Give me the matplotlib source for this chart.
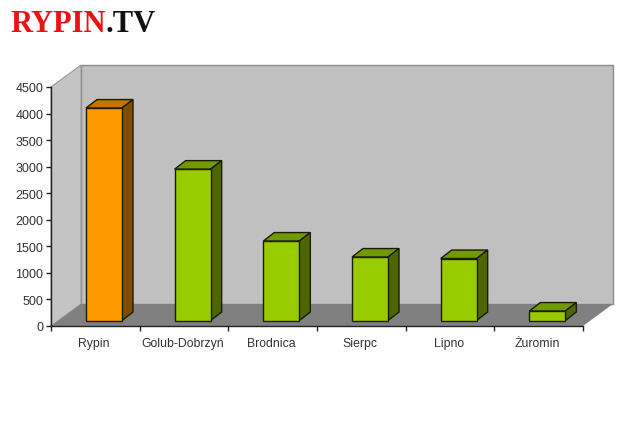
import matplotlib
matplotlib.use("Agg")
import matplotlib.pyplot as plt
from matplotlib.patches import Polygon

categories = ["Rypin", "Golub-Dobrzyń", "Brodnica", "Sierpc", "Lipno", "Żuromin"]
values = [4000, 2850, 1496, 1195, 1167, 178]
yticks = list(range(0, 5000, 500))

W, H = 629, 427
fig = plt.figure(figsize=(W / 100, H / 100), dpi=100, facecolor="white")
L, R, B, T = 51, 583, 327, 88
ax = fig.add_axes([L / W, 1 - B / H, (R - L) / W, (B - T) / H])
ax.set_xlim(0, 6)
ax.set_ylim(0, 4500)
ax.patch.set_visible(False)
for s in ("top", "right"):
    ax.spines[s].set_visible(False)
for s in ("left", "bottom"):
    ax.spines[s].set_color("#222222")
    ax.spines[s].set_linewidth(1.0)

pxx = (R - L) / 6
pxy = (B - T) / 4500
DX, DY = 30 / pxx, 22 / pxy          # chart depth
bx, by = 11 / pxx, 8.5 / pxy         # bar depth
bw = 36 / pxx                        # bar width
ox, oy = 35 / pxx, 5.5 / pxy         # bar offset from the category's left edge


def poly(pts, fc, ec="none", lw=0, z=1):
    ax.add_patch(Polygon(pts, closed=True, facecolor=fc, edgecolor=ec,
                         linewidth=lw, zorder=z, clip_on=False, joinstyle="miter"))


# walls and floor
poly([(DX, DY), (6 + DX, DY), (6 + DX, 4500 + DY), (DX, 4500 + DY)], "#c0c0c0", "#8a8a8a", 1.0)
poly([(0, 0), (DX, DY), (DX, 4500 + DY), (0, 4500)], "#c4c4c4", "#9a9a9a", 0.8)
poly([(0, 0), (6, 0), (6 + DX, DY), (DX, DY)], "#808080")

# bars
for i, (c, v) in enumerate(zip(categories, values)):
    x0 = i + ox
    front, top, side = ("#ff9900", "#c47500", "#7f4d00") if i == 0 else ("#99cc00", "#739900", "#4d6600")
    k = "#1c1c00"
    ax.bar(x0, v, width=bw, bottom=oy, align="edge", color=front, edgecolor=k, linewidth=1.0, zorder=4)
    t = oy + v
    poly([(x0, t), (x0 + bw, t), (x0 + bw + bx, t + by), (x0 + bx, t + by)], top, k, 1.0, 3)
    poly([(x0 + bw, oy), (x0 + bw + bx, oy + by), (x0 + bw + bx, t + by), (x0 + bw, t)], side, k, 1.0, 3)

ax.set_yticks(yticks)
ax.set_xticks(range(7))
ax.set_xticklabels([])
ax.tick_params(axis="both", length=3.5, width=1.0, color="#222222")
ax.tick_params(axis="y", labelsize=9, labelcolor="#333333", pad=2)
for lab in ax.get_yticklabels():
    lab.set_fontfamily("Liberation Sans")
for i, c in enumerate(categories):
    ax.annotate(c, (i + 0.5, 0), xytext=(-1, -12.5), textcoords="offset points", ha="center", va="center",
                fontsize=8.8, color="#333333", family="Liberation Sans", annotation_clip=False)

fig.text(10 / W, 1 - 32.5 / H, "RYPIN", color="#ee1111", fontsize=22, fontweight="bold",
         family="Liberation Serif", ha="left", va="baseline")
fig.text(106 / W, 1 - 32.5 / H, ".TV", color="#111111", fontsize=22, fontweight="bold",
         family="Liberation Serif", ha="left", va="baseline")

fig.savefig("out.png", dpi=100)
